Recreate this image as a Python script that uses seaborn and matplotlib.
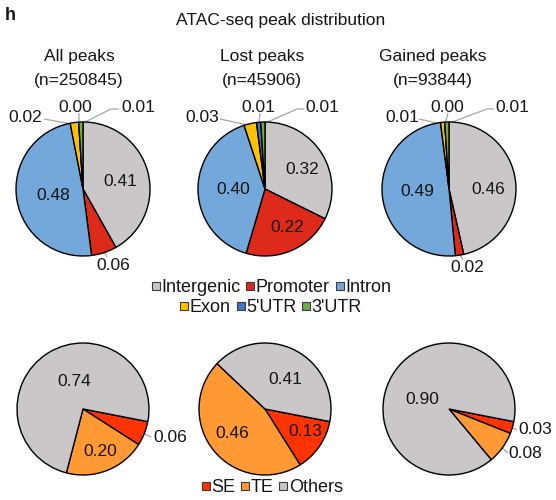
import matplotlib
matplotlib.use("Agg")
import matplotlib.pyplot as plt
from matplotlib.lines import Line2D
import numpy as np
import seaborn as sns

sns.set_theme(style="white")
plt.rcParams["font.family"] = ["Liberation Sans", "DejaVu Sans"]

# ---- data -------------------------------------------------------------
features = ["Intergenic", "Promoter", "Intron", "Exon", "5'UTR", "3'UTR"]
feature_colors = ["#C9C7C7", "#DE2A1A", "#74A7DA", "#FFC000", "#4472C4", "#70AD47"]

peak_sets = ["All peaks", "Lost peaks", "Gained peaks"]
peak_counts = [250845, 45906, 93844]

all_peaks = [0.41, 0.06, 0.48, 0.02, 0.00, 0.01]
lost_peaks = [0.32, 0.22, 0.40, 0.03, 0.01, 0.01]
gained_peaks = [0.46, 0.02, 0.49, 0.01, 0.00, 0.01]

enhancer_types = ["SE", "TE", "Others"]
enhancer_colors = ["#FF3300", "#FF9933", "#C9C7C7"]
all_enh = [0.06, 0.20, 0.74]
lost_enh = [0.13, 0.46, 0.41]
gained_enh = [0.03, 0.08, 0.90]

# ---- layout (pixel coordinates, y downwards) ---------------------------
W, H = 556, 500
TXT = "#151515"
LEADER = "#A6A6A6"
FS = 13
FS_TITLE = 12.5
FS_LAB = 12.5

col_x = [83, 265, 449]
top_y, bot_y = 189, 409
top_r, bot_r = 67, 66

# label placement for each pie: slice index -> (text xy, leader anchor xy or None, elbow xy or None)
top_labels = [
    {0: ((120, 182), None, None), 2: ((53, 195), None, None),
     1: ((113, 266), (107, 257), None),
     3: ((25, 117), (44, 119), None),
     4: ((75, 107), (79, 113), None),
     5: ((138, 107), (119, 109), (111, 109))},
    {0: ((302, 170), None, None), 1: ((287, 227), None, None), 2: ((233, 190), None, None),
     3: ((202, 117), (220, 119), None),
     4: ((258, 107), (260, 113), None),
     5: ((322, 107), (304, 109), (297, 109))},
    {0: ((488, 190), None, None), 2: ((417, 192), None, None),
     1: ((467, 268), (463, 260), None),
     3: ((402, 117), (419, 119), None),
     4: ((447, 107), (448, 113), None),
     5: ((512, 107), (494, 109), (487, 109))},
]
bot_labels = [
    {2: ((74, 382), None, None), 1: ((100, 452), None, None),
     0: ((170, 438), (151, 437), None)},
    {2: ((285, 379), None, None), 1: ((232, 434), None, None), 0: ((305, 432), None, None)},
    {2: ((422, 400), None, None),
     0: ((535, 430), (517, 430), None),
     1: ((525, 454), (508, 453), None)},
]

fig = plt.figure(figsize=(W / 100, H / 100), dpi=100)
ax = fig.add_axes([0, 0, 1, 1])


def draw_pie(values, colors, cx, cy, r, start_visual, labels):
    # y axis is inverted, so visual clockwise == data counter-clockwise
    wedges, _ = ax.pie(values, colors=colors, center=(cx, cy), radius=r,
                       startangle=-start_visual, counterclock=True, frame=True,
                       wedgeprops=dict(edgecolor="black", linewidth=1.0))
    for i, (txy, anchor, elbow) in labels.items():
        w = wedges[i]
        mid = np.deg2rad((w.theta1 + w.theta2) / 2)
        if anchor is not None:
            rim = (cx + 0.97 * r * np.cos(mid), cy + 0.97 * r * np.sin(mid))
            pts = [anchor] + ([elbow] if elbow else []) + [rim]
            xs, ys = zip(*pts)
            ax.plot(xs, ys, color=LEADER, lw=0.9, zorder=0.5, solid_capstyle="butt")
        ax.text(txy[0], txy[1], f"{values[i]:.2f}", ha="center", va="center",
                fontsize=FS_LAB, color=TXT)


for k, vals in enumerate([all_peaks, lost_peaks, gained_peaks]):
    draw_pie(vals, feature_colors, col_x[k], top_y, top_r, 90, top_labels[k])

for k, vals in enumerate([all_enh, lost_enh, gained_enh]):
    draw_pie(vals, enhancer_colors, col_x[k], bot_y, bot_r, -11, bot_labels[k])

ax.set_xlim(0, W)
ax.set_ylim(H, 0)
ax.set_axis_off()

# ---- titles -------------------------------------------------------------
ax.text(5, 16, "h", fontsize=FS, fontweight="bold", color=TXT, ha="left", va="center")
ax.text(281, 20, "ATAC-seq peak distribution", fontsize=FS_TITLE, color=TXT,
        ha="center", va="center")
sub_x = [79, 262, 433]
for k, (name, n) in enumerate(zip(peak_sets, peak_counts)):
    ax.text(sub_x[k], 56, name, fontsize=FS_TITLE, color=TXT, ha="center", va="center")
    ax.text(sub_x[k], 80, f"(n={n})", fontsize=FS_TITLE, color=TXT, ha="center", va="center")


# ---- legends ------------------------------------------------------------
def handles(names, colors):
    return [Line2D([], [], marker="s", linestyle="none", markersize=5.5,
                   markerfacecolor=c, markeredgecolor="#3a3a3a", markeredgewidth=0.8,
                   label=n) for n, c in zip(names, colors)]


def row_legend(names, colors, x, y):
    leg = fig.legend(handles=handles(names, colors), loc="center",
                     bbox_to_anchor=(x / W, 1 - y / H), ncol=len(names), frameon=False,
                     fontsize=FS, handlelength=0.5, handletextpad=0.05,
                     columnspacing=0.3, borderpad=0, labelcolor=TXT)
    return leg


row_legend(features[:3], feature_colors[:3], 271, 288)
row_legend(features[3:], feature_colors[3:], 271, 308)
row_legend(enhancer_types, enhancer_colors, 272, 488)

fig.savefig("out.png", dpi=100, facecolor="white")
